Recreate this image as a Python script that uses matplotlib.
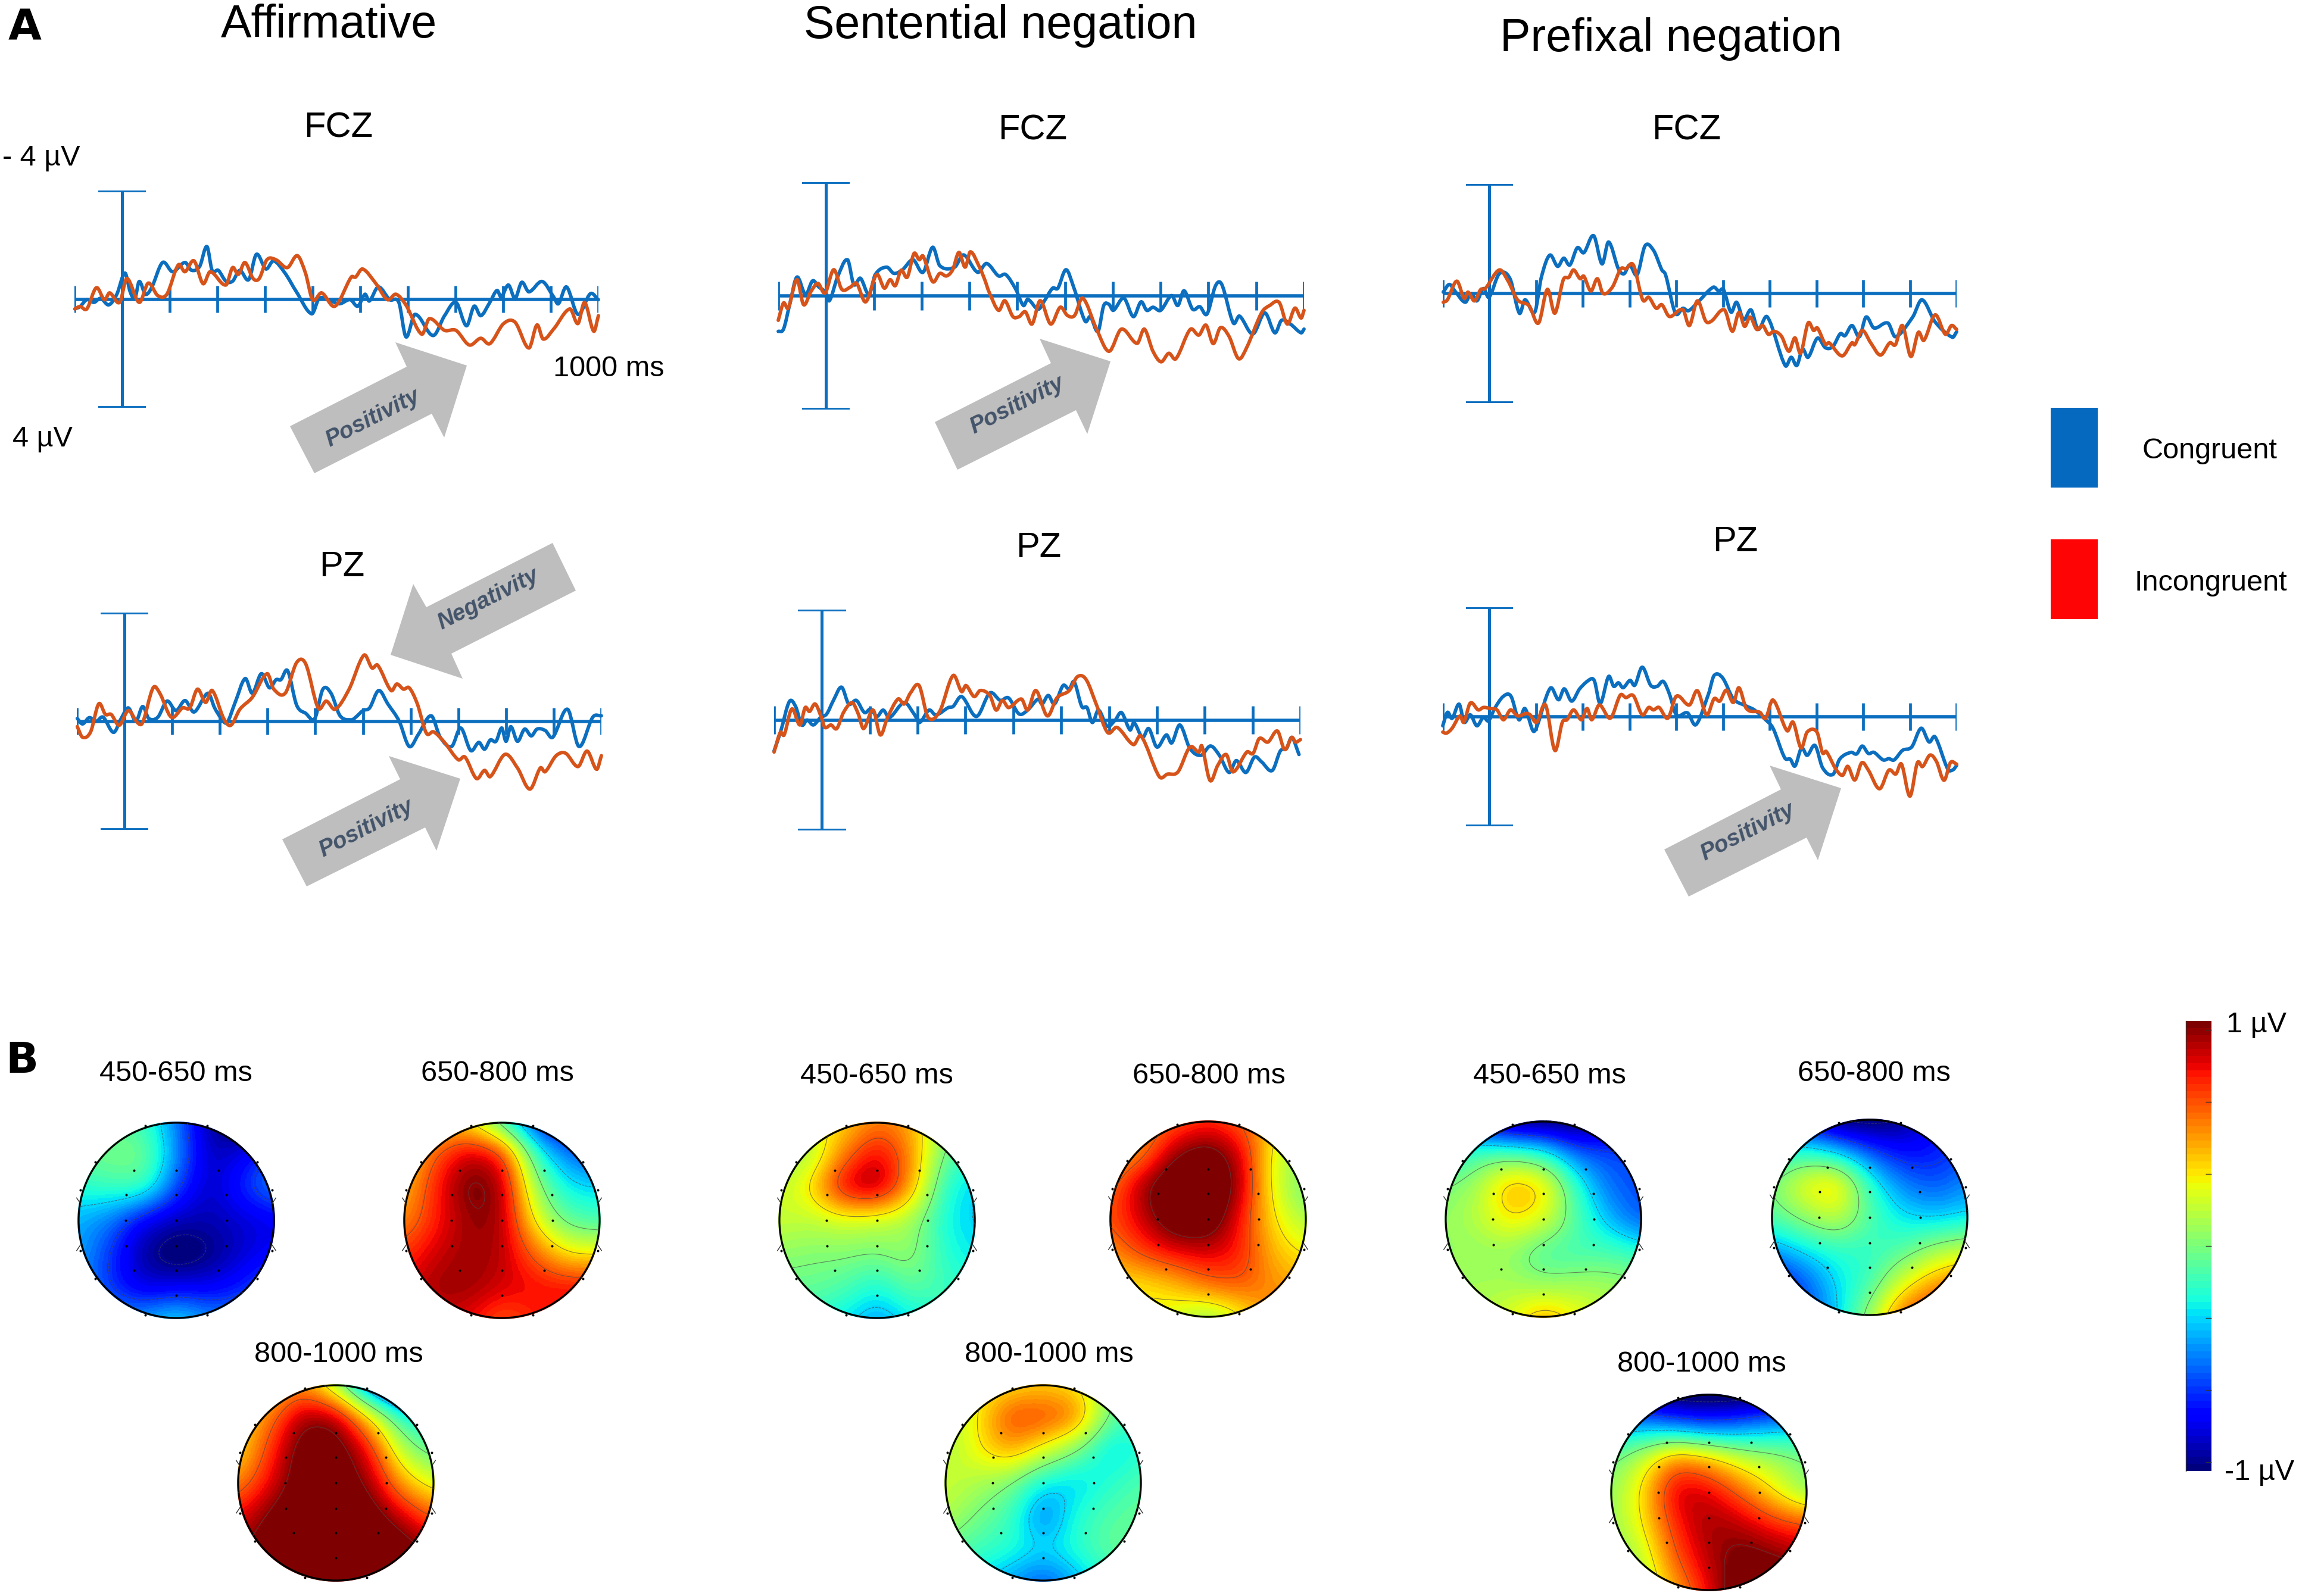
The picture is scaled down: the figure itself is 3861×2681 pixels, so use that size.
import numpy as np
import matplotlib
matplotlib.use("Agg")
import matplotlib.pyplot as plt
from matplotlib.patches import Circle, Polygon, Rectangle, PathPatch
from matplotlib.path import Path

W, H = 3862, 2681
BLUE = "#0B6EBF"
ORANGE = "#D6531A"
GREY = "#BEBEBE"
ARROW_TEXT = "#44546A"

plt.rcParams["font.family"] = ["Liberation Sans", "DejaVu Sans"]

# ERP traces, time in ms and amplitude in uV (negative is up)
aff_fcz_con_t = [-99,-88,-74,-59,-45,-28,-11,6,17,27,36,49,62,85,106,132,146,163,178,189,202,218,232,247,266,282,302,318,342,366,398,414,438,457,479,495,510,519,538,562,581,596,615,653,677,701,723,739,753,772,787,796,811,825,839,854,882,906,916,933,957,983,1000]
aff_fcz_con = [.36,.27,.02,.12,-.03,.21,-.18,-.96,-.27,-.03,-.65,-.18,-.42,-1.35,-1.01,-1.35,-1.06,-1.21,-1.94,-1.06,-1.06,-.66,-.66,-1.06,-.72,-1.65,-1.11,-1.41,-.96,-.27,.54,-.03,.07,.17,.02,.26,-.18,.07,-.45,.02,.12,1.39,.56,1.34,.61,.12,.98,.26,.61,.12,-.32,-.08,-.52,-.03,-.62,-.27,-.65,-.08,.17,-.45,.56,-.2,.02]
aff_fcz_inc_t = [-99,-88,-74,-54,-37,-26,-5,10,36,55,75,94,118,132,151,170,185,218,232,244,258,275,288,304,323,347,368,385,400,419,447,481,490,505,533,557,575,596,629,645,677,701,729,753,772,801,825,854,871,884,906,940,957,971,990,1000]
aff_fcz_inc = [.36,.27,.36,-.42,.02,-.23,.12,-.76,.12,-.59,-.13,-.18,-1.26,-1.01,-1.41,-.57,-1.01,-.52,-1.16,-.91,-1.35,-.76,-.76,-1.45,-1.45,-1.16,-1.6,-.96,.02,-.23,.26,-.81,-.81,-1.11,-.57,.02,-.18,.22,1.29,.72,1.15,1.15,1.69,1.44,1.64,.9,.85,1.8,.95,1.47,1.1,.36,.9,.12,1.18,.61]

aff_pz_con_t = [-99,-88,-74,-59,-45,-23,-7,8,24,38,51,70,89,108,127,146,175,189,203,215,232,253,268,287,304,318,328,342,361,380,399,416,433,452,476,485,500,514,533,552,576,597,616,643,662,686,705,726,743,755,767,779,791,800,810,824,839,853,865,882,898,929,953,982,1000]
aff_pz_con = [-.1,.1,-.13,0,-.15,.41,-.1,-.49,0,-.54,-.1,-.15,-.74,-.39,-.76,-.34,-1.03,-.49,-.1,.05,-.69,-1.57,-1.03,-1.75,-1.23,-1.53,-1.53,-1.86,-.59,-.29,-.1,-1.18,-1.03,-.2,-.05,-.15,-.39,-.49,-1.13,-.64,0,.93,.49,-.2,.59,.93,.25,1.08,.78,1.03,.69,.74,.25,.74,.2,.74,.29,.54,.29,.34,.59,-.44,.93,-.15,-.2]
aff_pz_inc_t = [-99,-88,-71,-54,-40,-28,-11,8,27,38,60,74,98,122,137,153,170,184,208,223,242,268,299,313,337,361,380,406,423,442,471,502,519,531,559,571,585,597,614,633,648,671,700,714,738,755,767,798,824,850,872,882,905,925,951,970,990,1000]
aff_pz_inc = [.2,.59,.39,-.64,-.25,-.25,.15,-.39,.05,.05,-1.23,-1.03,-.15,-.49,-.49,-1.18,-.69,-1.13,-.1,.15,-.44,-.88,-1.75,-1.18,-1.03,-2.16,-2.11,-.49,-.74,-.44,-1.18,-2.43,-1.96,-2.06,-1.13,-1.37,-1.18,-1.23,-.64,.44,.39,.78,1.42,1.32,2.11,1.81,2.04,1.22,1.72,2.5,1.72,1.86,1.27,1.18,1.67,1.1,1.77,1.27]

sen_fcz_con_t = [-100,-89,-76,-61,-43,-28,-15,-2,7,24,45,58,72,90,103,127,142,160,182,203,223,238,269,288,317,336,361,376,397,413,422,444,457,474,485,502,518,542,553,569,581,592,601,623,643,659,671,684,700,723,736,749,767,782,797,815,828,852,865,893,918,939,953,972,994,1000]
sen_fcz_con = [1.25,1.17,.3,-.66,-.05,-.53,-.31,-.14,.17,-.66,-1.27,-.4,-.62,-.05,-.75,-1.01,-.79,-.92,-1.27,-.83,-1.71,-1.06,-1.01,-1.44,-.83,-1.14,-.7,-.75,-.23,.34,.12,.47,.17,-.27,-.27,-.92,-.31,.89,.73,1.25,.34,.3,.51,.08,.73,.21,.51,.4,.51,-.01,.34,-.18,.47,.38,.64,-.36,-.4,.95,.71,1.34,.6,1.3,.86,1.0,1.3,1.17]
sen_fcz_inc_t = [-100,-89,-79,-61,-47,-32,-17,-2,16,33,51,64,83,106,122,134,145,157,170,184,195,203,223,238,252,265,278,291,302,321,332,341,361,374,391,404,417,431,448,470,490,505,520,537,566,592,618,651,666,684,701,717,732,762,780,795,810,825,843,863,880,911,928,948,965,981,994,1000]
sen_fcz_inc = [.86,.25,.43,-.57,.31,-.14,-.44,-.1,-.92,-.23,-.31,-.44,.21,-.75,-.27,-.57,-.36,-.9,-.66,-1.49,-1.27,-1.4,-.5,-.79,-.7,-.92,-1.53,-1.01,-1.55,-1.01,-.57,-.14,.51,.17,.73,.73,.56,.99,.17,.99,.4,.69,.69,.08,1.17,1.95,1.17,1.67,1.17,1.95,2.32,2.02,2.21,1.18,1.38,1.03,1.68,1.12,1.42,2.21,1.82,.6,.34,.23,.99,.43,.78,.51]

sen_pz_con_t = [-100,-86,-68,-55,-42,-31,-18,-3,10,24,41,56,72,89,102,115,128,141,172,194,204,224,238,264,274,292,323,351,373,390,412,430,452,460,473,486,504,517,527,543,554,565,578,596,613,626,644,652,670,683,700,720,731,748,769,792,812,831,851,866,886,904,919,941,958,971,982,997]
sen_pz_con = [1.12,.4,-.67,-.49,.18,0,.18,-.09,-.22,-.71,-1.19,-.58,-.71,-.27,-.4,-.13,-.36,-.09,-.63,-.18,.09,-.36,-.18,-.45,-.49,-.85,-.13,-.98,-.71,-.8,-.22,-.36,-.76,-.58,-.89,-.58,-1.25,-1.12,-1.39,-.49,-.45,.09,-.36,.22,0,-.27,.36,.09,.63,.31,.98,.54,.83,.18,1.03,1.28,.94,1.29,1.9,1.47,1.9,1.34,1.52,1.83,1.12,1.03,.63,1.25]
sen_pz_inc_t = [-100,-87,-79,-63,-46,-35,-26,-14,0,6,19,31,45,63,76,87,107,122,137,159,172,185,203,222,246,274,292,301,318,331,351,364,377,390,417,430,447,471,491,517,534,552,574,597,617,651,667,705,722,744,769,788,794,811,827,845,859,888,901,914,932,952,967,982,990,1000]
sen_pz_inc = [1.16,.45,.54,-.4,.18,-.45,-.31,-.58,-.04,.27,.18,.31,-.27,-.63,-.22,.31,-.36,.54,-.09,-.76,-.58,-.98,-1.25,-.09,-.31,-1.61,-1.03,-1.25,-.85,-1.07,-.89,-.36,-.71,-.45,-.76,-.36,-1.07,-.15,-.8,-1.07,-1.57,-1.47,-.54,.45,.27,.89,.58,2.05,1.96,1.88,.98,1.16,.94,2.19,1.65,1.25,1.88,1.16,1.21,.67,.8,.4,1.07,.63,.8,.71]

pre_fcz_con_t = [-99,-86,-74,-52,-39,-27,-13,-1,21,44,64,76,97,111,129,146,159,172,188,202,223,241,255,276,288,300,316,333,351,369,377,398,414,426,446,479,491,501,517,529,544,560,575,595,633,646,658,670,682,702,719,735,751,761,776,792,806,823,853,869,906,926,954,991,1000]
pre_fcz_con = [-.05,-.33,-.09,.32,0,.27,-.18,.14,-.72,-.54,.72,.23,.68,-.59,-1.4,-.99,-1.29,-1.04,-1.67,-1.49,-2.11,-1.08,-1.88,-.9,-.72,-1.04,-.68,-1.74,-1.58,-.86,-.68,.72,.54,.63,.32,-.23,-.09,-.14,.68,.32,.95,.6,1.31,.86,2.63,2.33,2.63,2.03,2.33,1.63,1.98,1.94,1.47,1.54,1.17,1.58,.86,1.26,1.08,1.58,.86,.23,1.04,1.6,1.4]
pre_fcz_inc_t = [-99,-90,-70,-54,-46,-32,-19,-9,21,40,60,85,105,124,140,158,170,180,194,202,217,231,243,263,281,292,308,328,341,357,369,385,414,428,445,463,475,503,520,534,546,558,572,585,597,609,625,641,654,666,682,694,702,719,727,755,776,782,798,816,837,857,869,884,902,918,930,954,976,989,1000]
pre_fcz_inc = [.32,.23,-.45,.18,-.05,.27,-.14,-.18,-.86,-.45,.23,.45,1.08,-.15,.72,-.5,-.59,-.86,-.54,-.63,-.09,-.54,0,-.23,-.9,-.9,-1.04,.23,.14,.54,.41,.84,.59,1.17,.27,1.01,1.01,.6,1.38,.69,1.2,.86,1.31,1.17,1.49,1.38,1.56,2.11,1.62,2.18,1.08,1.35,1.26,1.85,1.8,2.28,1.8,1.87,1.35,1.8,2.25,1.8,1.87,1.17,2.3,1.42,1.71,.78,1.49,1.17,1.31]

pre_pz_con_t = [-100,-90,-80,-65,-54,-41,-27,-13,-2,11,30,46,63,76,93,101,130,148,160,176,193,217,225,237,255,266,276,286,301,311,327,345,359,372,385,400,424,442,469,481,499,522,550,567,591,607,632,644,654,668,680,697,713,735,750,774,786,798,811,823,843,855,866,884,904,924,941,954,981,992,1000]
pre_pz_con = [.33,-.16,.06,-.46,.2,-.07,.33,.02,.15,-.3,-.75,-.75,.11,-.3,.51,.38,-1.04,-.62,-1.02,-.57,-1.02,-1.38,-1.29,-.48,-1.47,-1.11,-1.24,-1.06,-1.33,-1.15,-1.81,-1.15,-1.11,-1.29,-.84,-.07,-.14,.29,-.84,-1.51,-1.42,-.66,-.39,-.25,.11,.42,1.5,1.55,1.8,1.14,1.41,1.05,1.86,2.11,1.54,1.3,1.36,1.07,1.34,1.3,1.58,1.53,1.58,1.23,1.1,.42,.92,.74,1.91,1.94,1.78]
pre_pz_inc_t = [-100,-92,-80,-63,-55,-41,-24,-13,2,16,30,45,60,79,87,101,120,140,156,166,180,197,209,219,235,259,280,292,308,327,341,351,363,382,400,428,445,465,481,493,507,522,534,550,579,591,607,637,650,667,680,701,713,721,741,756,767,782,797,811,835,855,870,882,900,916,927,943,957,973,987,1000]
pre_pz_inc = [.56,.6,.42,-.03,.2,-.5,-.25,-.34,-.3,-.25,.11,-.25,-.03,-.12,-.07,.2,-.43,1.23,.2,.11,-.25,.11,-.3,.11,-.43,.05,-.79,-.7,-.77,-.07,-.34,-.25,-.34,.05,-.75,-.43,-.95,-.07,-.66,-.57,-.97,-.52,-1.06,-.3,-.16,.06,-.61,.51,.2,1.14,.56,.56,1.32,1.27,1.9,2.14,1.81,2.31,1.68,1.95,2.63,1.95,2.09,1.73,2.9,1.68,1.82,1.4,1.64,2.32,1.67,1.73]

tick_times = [-100, 0, 100, 200, 300, 400, 500, 600, 700, 800, 900, 1000]

# scalp maps: uV read on a 7x7 grid, top row first, left to right
map_aff_450 = [[-.1,-.1,-.15,-.5,-.95,-1.1,-1.1],[-.05,0,0,-.45,-.9,-.8,-.55],[-.2,-.15,-.1,-.6,-.9,-.65,-.45],[-.4,-.5,-.8,-.9,-.9,-.85,-.8],[-.4,-.65,-.95,-1.1,-1,-.85,-.75],[-.45,-.65,-.85,-.8,-.8,-.7,-.5],[-.45,-.45,-.4,-.25,-.45,-.45,-.45]]
map_aff_650 = [[.3,.3,.3,-.2,-.7,-.9,-.9],[.3,.65,.9,.8,-.2,-.5,-.65],[.4,.75,1.05,.95,.05,-.3,-.3],[.5,.75,.95,.95,.25,-.1,-.15],[.7,.85,.95,.9,.6,.3,.3],[.8,.95,.95,.85,.8,.8,.8],[.8,.85,.8,.6,.75,.8,.8]]
map_aff_800 = [[.2,.3,.5,.05,-.7,-1,-1],[.3,.55,.95,.95,.35,-.2,-.35],[.3,.7,1.1,1.1,.8,.1,-.1],[.5,.8,1.1,1.1,.95,.45,.2],[.8,1,1.2,1.2,1.1,.85,.6],[.9,1.1,1.2,1.2,1.2,1.1,.9],[1.1,1.1,1.1,1.1,1.1,1.1,1.1]]
map_sen_450 = [[.2,.25,.35,.55,.45,.1,-.1],[.05,.1,.55,.85,.55,-.05,-.2],[.15,.35,.9,1,.5,-.2,-.35],[.2,.15,.2,.15,.1,-.25,-.35],[.05,.02,.02,0,.08,-.2,-.3],[-.05,-.05,-.1,-.25,-.05,-.15,-.2],[-.1,-.2,-.3,-.45,-.3,-.2,-.1]]
map_sen_650 = [[.5,.5,.6,.7,.6,.4,.2],[.4,.5,.95,1.1,.85,.2,.05],[.55,.95,1.2,1.25,.9,.2,-.05],[.65,.85,1.15,1.15,.75,.3,.1],[.5,.7,.8,.85,.75,.4,.3],[.3,.3,.4,.6,.65,.5,.45],[.3,.3,.2,0,.25,.55,.6]]
map_sen_800 = [[.2,.25,.3,.35,.3,.05,-.1],[.1,.3,.7,.7,.6,-.05,-.2],[.1,.3,.5,.25,0,-.35,-.2],[.2,.12,0,-.3,-.35,-.2,-.1],[.15,-.02,-.15,-.55,-.2,-.1,-.05],[-.05,-.15,-.2,-.3,-.2,-.05,-.05],[-.25,-.3,-.45,-.6,-.4,-.2,-.2]]
map_pre_450 = [[-.65,-.85,-1.1,-1.1,-1.1,-.95,-.75],[-.3,-.1,-.1,-.2,-.55,-.6,-.6],[0,.1,.5,.4,-.2,-.55,-.6],[.05,.15,.35,.25,-.1,-.4,-.6],[.05,.05,.05,-.15,-.15,-.12,-.2],[.1,.1,.1,.05,.1,.1,.05],[.1,.1,.25,.5,.3,.15,.1]]
map_pre_650 = [[-.65,-.85,-1.1,-1.1,-1,-.75,-.6],[-.3,-.2,-.35,-.6,-.75,-.7,-.6],[0,.3,.45,-.2,-.5,-.6,-.45],[-.1,.05,.2,-.1,-.3,-.35,-.3],[-.45,-.3,-.2,-.2,-.1,.1,.2],[-.8,-.6,-.3,-.15,.25,.5,.6],[-.65,-.65,-.35,.1,.65,.8,.85]]
map_pre_800 = [[-.9,-1.05,-1.15,-1.15,-1.15,-1.05,-.9],[-.4,-.4,-.5,-.6,-.5,-.4,-.35],[-.05,.2,.6,.45,.2,.1,0],[.05,.35,.9,.85,.6,.3,0],[.05,.3,.75,.95,.9,.75,.7],[0,.15,.65,.9,1.05,1,.9],[0,.1,.45,.8,1.15,1.15,1.1]]

contour_levels = [-.96, -.64, -.32, 0, .32, .64, .96]
grid_coords = np.linspace(-1.02, 1.02, 7)

# electrode layout on the unit head
elec_x = [-.32,.32,-.83,.83,-.98,.98,-.98,.98,-.83,.83,-.32,.32,-.43,0,.43,-.51,0,.51,-.52,0,.52,-.51,0,.51,-.43,0,.43,0]
elec_y = [.97,.97,.6,.6,.31,.31,-.31,-.31,-.6,-.6,-.97,-.97,.51,.51,.51,.26,.26,.26,0,0,0,-.26,-.26,-.26,-.51,-.51,-.51,-.77]

fig = plt.figure(figsize=(W / 100, H / 100), dpi=100, facecolor="white")
bg = fig.add_axes([0, 0, 1, 1])
bg.set_xlim(0, W)
bg.set_ylim(H, 0)
bg.axis("off")


def px_axes(left, right, top, bottom):
    return fig.add_axes([left / W, 1 - bottom / H, (right - left) / W, (bottom - top) / H])


def curve(ax, t, v, color, z):
    # bezier segments through the read points, so the peaks come out round
    t = np.asarray(t, float)
    v = np.asarray(v, float)
    verts = [(t[0], v[0])]
    codes = [Path.MOVETO]
    for i in range(len(t) - 1):
        a = max(i - 1, 0)
        b = min(i + 2, len(t) - 1)
        gap = t[i + 1] - t[i]
        s0 = (v[i + 1] - v[a]) / (t[i + 1] - t[a])
        s1 = (v[b] - v[i]) / (t[b] - t[i])
        verts += [(t[i] + gap / 3, v[i] + s0 * gap / 3),
                  (t[i + 1] - gap / 3, v[i + 1] - s1 * gap / 3),
                  (t[i + 1], v[i + 1])]
        codes += [Path.CURVE4] * 3
    ax.add_patch(PathPatch(Path(verts, codes), fill=False, ec=color, lw=4.2,
                           capstyle="round", joinstyle="round", clip_on=False, zorder=z))


def erp_panel(left, right, top, bottom, con_t, con, inc_t, inc):
    ax = px_axes(left, right, top, bottom)
    ax.set_xlim(-100, 1000)
    ax.set_ylim(4, -4)
    ax.axis("off")
    ax.hlines(0, -100, 1000, color=BLUE, lw=4, zorder=1)
    ax.vlines(0, -4, 4, color=BLUE, lw=3.6, zorder=1)
    ax.hlines([-4, 4], -50, 50, color=BLUE, lw=4.2, zorder=1)
    ax.vlines(tick_times, -.5, .5, color=BLUE, lw=3.4, zorder=1)
    curve(ax, con_t, con, BLUE, 2)
    curve(ax, inc_t, inc, ORANGE, 3)


def upsample(values, fine, sigma=.13):
    # linear fill of the read grid, then a gaussian blur along both axes
    z = np.array(values, float)[::-1]
    z = np.array([np.interp(fine, grid_coords, row) for row in z])
    z = np.array([np.interp(fine, grid_coords, col) for col in z.T]).T
    step = fine[1] - fine[0]
    half = int(3 * sigma / step)
    kernel = np.exp(-.5 * (np.arange(-half, half + 1) * step / sigma) ** 2)
    kernel /= kernel.sum()
    z = np.pad(z, half, mode="edge")
    z = np.array([np.convolve(row, kernel, mode="same") for row in z])
    z = np.array([np.convolve(col, kernel, mode="same") for col in z.T]).T
    return z[half:-half, half:-half]


def scalp_map(cx, cy, values):
    r = 164
    ax = px_axes(cx - r * 1.1, cx + r * 1.1, cy - r * 1.1, cy + r * 1.1)
    ax.set_xlim(-1.1, 1.1)
    ax.set_ylim(-1.1, 1.1)
    ax.axis("off")
    fine = np.linspace(-1.02, 1.02, 240)
    fx, fy = np.meshgrid(fine, fine)
    fz = upsample(values, fine)
    im = ax.imshow(fz, extent=(-1.02, 1.02, -1.02, 1.02), origin="lower",
                   cmap=plt.get_cmap("jet", 64), vmin=-1, vmax=1, interpolation="nearest")
    clip = Circle((0, 0), 1.012, transform=ax.transData)
    im.set_clip_path(clip)
    cs = ax.contour(fx, fy, fz, levels=contour_levels, colors="#4a4a4a", linewidths=.8, alpha=.65)
    cs.set_clip_path(clip)
    ax.add_patch(Circle((0, 0), 1, fill=False, ec="black", lw=2.3))
    ax.plot(elec_x, elec_y, ls="none", marker="o", ms=1.9, color="black", clip_on=False)
    for sx in (-1, 1):
        for ey in (.2, -.28):
            ax.plot([sx * .98, sx * 1.02], [ey - .03 * np.sign(ey), ey + .03 * np.sign(ey)],
                    color="#333333", lw=1, clip_on=False)


# ERP panels, pixel rectangle of the axis cross
erp_panel(125, 1005, 320, 685, aff_fcz_con_t, aff_fcz_con, aff_fcz_inc_t, aff_fcz_inc)
erp_panel(129, 1010, 1029, 1394, aff_pz_con_t, aff_pz_con, aff_pz_inc_t, aff_pz_inc)
erp_panel(1307, 2190, 306, 688, sen_fcz_con_t, sen_fcz_con, sen_fcz_inc_t, sen_fcz_inc)
erp_panel(1300, 2184, 1024, 1395, sen_pz_con_t, sen_pz_con, sen_pz_inc_t, sen_pz_inc)
erp_panel(2423, 3286, 309, 677, pre_fcz_con_t, pre_fcz_con, pre_fcz_inc_t, pre_fcz_inc)
erp_panel(2423, 3286, 1020, 1388, pre_pz_con_t, pre_pz_con, pre_pz_inc_t, pre_pz_inc)

scalp_map(296, 2050, map_aff_450)
scalp_map(843, 2050, map_aff_650)
scalp_map(564, 2491, map_aff_800)
scalp_map(1473, 2050, map_sen_450)
scalp_map(2029, 2048, map_sen_650)
scalp_map(1752, 2491, map_sen_800)
scalp_map(2592, 2048, map_pre_450)
scalp_map(3140, 2045, map_pre_650)
scalp_map(2870, 2507, map_pre_800)

# grey arrows
arrows = [
    ([(664,575),(784,614),(746,735),(725,695),(528,795),(487,716),(683,616)], "Positivity", 626, 703, 27),
    ([(653,1270),(773,1308),(733,1429),(714,1390),(515,1489),(474,1410),(672,1309)], "Positivity", 615, 1392, 27),
    ([(928,912),(967,992),(758,1098),(777,1140),(656,1100),(694,981),(716,1020)], "Negativity", 820, 1007, 27),
    ([(1746,569),(1865,607),(1826,729),(1807,689),(1608,789),(1570,709),(1765,610)], "Positivity", 1708, 681, 27),
    ([(2972,1286),(3092,1324),(3053,1445),(3034,1407),(2836,1506),(2795,1427),(2991,1326)], "Positivity", 2935, 1398, 27),
]
for verts, label, tx, ty, rot in arrows:
    bg.add_patch(Polygon(verts, closed=True, fc=GREY, ec="none", zorder=0))
    bg.text(tx, ty, label, ha="center", va="center", rotation=rot, rotation_mode="anchor",
            fontsize=28, fontweight="bold", style="italic", color=ARROW_TEXT, zorder=1)

# titles and labels
big_titles = [("Affirmative", 552, 43), ("Sentential negation", 1680, 43), ("Prefixal negation", 2806, 65)]
for s, x, y in big_titles:
    bg.text(x, y, s, ha="center", va="center", fontsize=55.5, color="black")

site_labels = [("FCZ", 568, 215), ("FCZ", 1734, 219), ("FCZ", 2832, 219),
               ("PZ", 574, 953), ("PZ", 1744, 921), ("PZ", 2914, 911)]
for s, x, y in site_labels:
    bg.text(x, y, s, ha="center", va="center", fontsize=43, color="black")

for s, x, y in [("A", 42, 47), ("B", 37, 1783)]:
    bg.text(x, y, s, ha="center", va="center", fontsize=52, fontweight="bold",
            family="DejaVu Sans", color="black")

small_labels = [("- 4 µV", 69, 265), ("4 µV", 71, 737), ("1000 ms", 1022, 620),
                ("450-650 ms", 295, 1804), ("650-800 ms", 835, 1804), ("800-1000 ms", 569, 2276),
                ("450-650 ms", 1472, 1807), ("650-800 ms", 2030, 1807), ("800-1000 ms", 1762, 2275),
                ("450-650 ms", 2602, 1807), ("650-800 ms", 3147, 1803), ("800-1000 ms", 2858, 2292),
                ("Congruent", 3711, 757), ("Incongruent", 3713, 979),
                ("1 µV", 3790, 1722), ("-1 µV", 3795, 2474)]
for s, x, y in small_labels:
    bg.text(x, y, s, ha="center", va="center", fontsize=35, color="black")

# legend swatches
bg.add_patch(Rectangle((3444, 685), 79, 134, fc="#0569C0", ec="none"))
bg.add_patch(Rectangle((3444, 906), 79, 134, fc="#FE0404", ec="none"))

# colour bar
cax = px_axes(3671, 3714, 1715, 2471)
cax.imshow(np.linspace(1, -1, 64).reshape(-1, 1), aspect="auto", cmap=plt.get_cmap("jet", 64),
           vmin=-1, vmax=1, extent=(0, 1, -1, 1), interpolation="nearest")
cax.set_xticks([])
cax.yaxis.tick_right()
cax.set_yticks([-.96, -.64, -.32, 0, .32, .64, .96])
cax.set_yticklabels([])
cax.tick_params(axis="y", direction="in", length=7, width=1, color="#333333")
for name, sp in cax.spines.items():
    sp.set_visible(name == "left")
    sp.set_linewidth(1)
    sp.set_color("#333333")

fig.savefig("out.png", dpi=100)
